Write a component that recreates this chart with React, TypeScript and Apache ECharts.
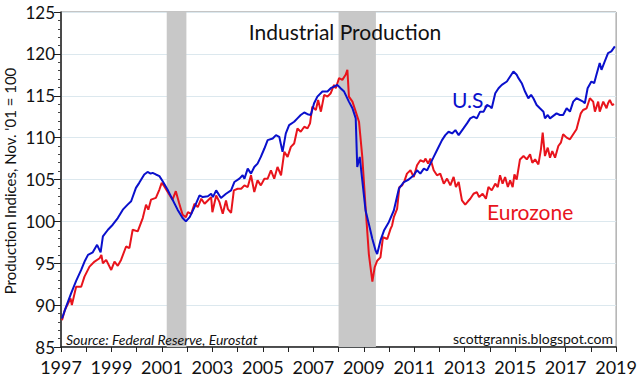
import React, { useEffect, useRef } from "react";
import * as echarts from "echarts";

const usSeries: [number, number][] = [
  [1997.04, 88.4], [1997.2, 89.8], [1997.4, 91.4], [1997.6, 92.9], [1997.8, 94.2], [1997.95, 95.3], [1998.07, 96.0], [1998.26, 96.3], [1998.43, 97.2], [1998.57, 96.3], [1998.66, 98.2], [1998.86, 99.0], [1999.05, 99.6], [1999.25, 100.4], [1999.45, 101.4], [1999.64, 102.0], [1999.78, 102.4], [1999.97, 104.0], [2000.1, 104.6], [2000.3, 105.6], [2000.43, 105.9], [2000.55, 105.7], [2000.63, 105.8], [2000.76, 105.6], [2000.9, 105.4], [2001.03, 104.8], [2001.22, 103.8], [2001.42, 102.6], [2001.62, 101.4], [2001.82, 100.4], [2001.95, 100.0],
  [2002.1, 100.5], [2002.29, 101.7], [2002.49, 103.1], [2002.62, 102.9], [2002.82, 103.0], [2002.95, 103.3], [2003.02, 102.9], [2003.15, 103.7], [2003.34, 102.8], [2003.54, 103.3], [2003.74, 103.7], [2003.87, 104.7], [2004.07, 105.1], [2004.2, 105.5], [2004.27, 105.1], [2004.4, 106.3], [2004.53, 105.7], [2004.66, 106.5], [2004.79, 106.9], [2004.92, 107.7], [2005.06, 108.7], [2005.19, 109.7], [2005.39, 109.9], [2005.52, 110.3], [2005.65, 110.1], [2005.78, 108.3], [2005.91, 110.5], [2006.04, 111.5], [2006.24, 111.9], [2006.37, 112.3], [2006.5, 112.7], [2006.64, 113.0], [2006.77, 112.8], [2006.9, 112.7], [2007.03, 114.1], [2007.16, 114.9], [2007.36, 115.5], [2007.56, 115.5], [2007.69, 115.9], [2007.82, 116.1], [2007.95, 116.3],
  [2008.08, 115.9], [2008.22, 115.5], [2008.41, 114.3], [2008.55, 113.5], [2008.68, 112.3], [2008.74, 106.5], [2008.84, 107.7], [2008.94, 104.9], [2009.07, 101.3], [2009.2, 99.7], [2009.34, 97.9], [2009.47, 96.5], [2009.53, 96.1], [2009.66, 97.7], [2009.8, 98.9], [2009.99, 99.9], [2010.19, 101.3], [2010.39, 103.9], [2010.59, 104.7], [2010.78, 105.0], [2010.98, 105.5],
  [2011.11, 106.1], [2011.24, 105.7], [2011.38, 106.3], [2011.51, 106.1], [2011.64, 106.9], [2011.77, 107.7], [2011.9, 108.5], [2012.1, 109.7], [2012.23, 110.3], [2012.36, 110.7], [2012.5, 110.5], [2012.63, 110.9], [2012.76, 110.3], [2012.95, 111.1], [2013.09, 111.7], [2013.22, 112.3], [2013.35, 112.5], [2013.48, 112.3], [2013.61, 113.1], [2013.75, 113.1], [2013.88, 113.9], [2014.01, 113.7], [2014.07, 113.5], [2014.21, 115.3], [2014.34, 115.9], [2014.47, 116.3], [2014.67, 116.7], [2014.8, 117.3], [2014.93, 117.9],
  [2015.06, 117.5], [2015.13, 117.1], [2015.26, 116.5], [2015.39, 115.5], [2015.52, 114.7], [2015.63, 115.1], [2015.72, 114.7], [2015.85, 113.9], [2015.98, 113.5], [2016.12, 113.1], [2016.18, 112.3], [2016.29, 112.7], [2016.38, 112.3], [2016.51, 112.6], [2016.64, 112.9], [2016.77, 112.7], [2016.9, 112.7], [2017.04, 113.5], [2017.17, 113.1], [2017.3, 114.3], [2017.43, 114.7], [2017.56, 114.5], [2017.69, 114.3], [2017.76, 114.1], [2017.87, 115.9], [2018.02, 116.7], [2018.13, 116.5], [2018.22, 117.5], [2018.35, 118.9], [2018.42, 118.1], [2018.55, 119.1], [2018.68, 120.1], [2018.81, 120.3], [2018.95, 120.9],
];

const euroSeries: [number, number][] = [
  [1997.04, 88.2], [1997.15, 89.4], [1997.28, 90.2], [1997.38, 90.8], [1997.43, 90.0], [1997.6, 92.2], [1997.8, 92.2], [1997.93, 93.4], [1998.13, 94.6], [1998.33, 95.2], [1998.53, 95.6], [1998.6, 96.0], [1998.66, 95.0], [1998.79, 95.4], [1998.99, 94.2], [1999.12, 95.2], [1999.25, 94.7], [1999.38, 95.4], [1999.58, 97.0], [1999.71, 96.8], [1999.84, 99.0], [2000.04, 98.8], [2000.24, 100.4], [2000.37, 102.0], [2000.46, 101.4], [2000.57, 102.6], [2000.76, 102.8], [2000.9, 103.8], [2000.99, 104.6], [2001.09, 104.2], [2001.29, 103.2], [2001.42, 102.6], [2001.55, 103.6], [2001.68, 102.2], [2001.82, 100.8], [2001.95, 100.5],
  [2002.03, 101.1], [2002.16, 100.9], [2002.29, 102.1], [2002.42, 101.7], [2002.56, 102.7], [2002.69, 102.1], [2002.82, 102.5], [2002.95, 102.9], [2003.0, 101.1], [2003.15, 103.1], [2003.28, 102.3], [2003.41, 100.9], [2003.54, 102.5], [2003.61, 101.5], [2003.74, 101.0], [2003.85, 103.7], [2004.0, 103.9], [2004.14, 103.9], [2004.27, 104.3], [2004.4, 104.1], [2004.53, 105.5], [2004.66, 103.5], [2004.79, 104.9], [2004.92, 104.3], [2005.06, 105.1], [2005.19, 105.1], [2005.32, 106.1], [2005.45, 105.1], [2005.58, 106.5], [2005.72, 105.5], [2005.85, 108.3], [2005.98, 107.7], [2006.11, 108.9], [2006.24, 109.3], [2006.37, 111.1], [2006.5, 110.7], [2006.64, 111.3], [2006.77, 111.1], [2006.87, 111.7], [2006.96, 113.7], [2007.1, 113.3], [2007.19, 114.5], [2007.3, 113.1], [2007.43, 115.1], [2007.56, 114.9], [2007.69, 115.3], [2007.82, 116.3], [2007.89, 115.9],
  [2008.02, 117.1], [2008.15, 116.9], [2008.28, 117.5], [2008.35, 118.1], [2008.41, 114.9], [2008.55, 114.3], [2008.68, 113.1], [2008.81, 111.9], [2008.94, 107.7], [2009.07, 101.7], [2009.2, 96.1], [2009.34, 92.8], [2009.43, 94.5], [2009.53, 95.3], [2009.66, 95.7], [2009.76, 98.1], [2009.93, 97.9], [2010.06, 99.1], [2010.12, 99.5], [2010.19, 100.5], [2010.32, 101.5], [2010.41, 104.1], [2010.52, 104.3], [2010.62, 104.9], [2010.71, 105.7], [2010.85, 106.1], [2010.98, 105.3],
  [2011.11, 106.7], [2011.24, 107.3], [2011.38, 107.1], [2011.44, 107.5], [2011.55, 106.9], [2011.64, 107.5], [2011.77, 106.1], [2011.9, 105.5], [2012.03, 105.7], [2012.17, 104.5], [2012.3, 105.1], [2012.43, 104.3], [2012.56, 105.3], [2012.65, 104.1], [2012.76, 104.7], [2012.89, 102.5], [2013.02, 102.0], [2013.13, 102.4], [2013.22, 102.7], [2013.35, 103.3], [2013.48, 103.5], [2013.57, 102.9], [2013.71, 103.3], [2013.84, 102.7], [2013.94, 104.1], [2014.07, 103.7], [2014.21, 104.5], [2014.31, 104.1], [2014.4, 105.5], [2014.5, 104.5], [2014.6, 105.3], [2014.71, 104.1], [2014.8, 104.9], [2014.9, 104.1], [2014.97, 105.6],
  [2015.06, 105.0], [2015.19, 107.4], [2015.33, 107.8], [2015.46, 107.4], [2015.59, 108.0], [2015.68, 107.0], [2015.79, 107.4], [2015.92, 106.8], [2016.02, 108.6], [2016.09, 110.6], [2016.18, 107.8], [2016.29, 108.8], [2016.38, 107.6], [2016.47, 108.4], [2016.58, 107.6], [2016.71, 109.0], [2016.81, 109.4], [2016.9, 110.4], [2017.04, 110.0], [2017.17, 109.8], [2017.3, 110.4], [2017.43, 111.0], [2017.5, 111.8], [2017.6, 112.9], [2017.69, 113.3], [2017.83, 113.5], [2017.96, 114.7], [2018.09, 114.3], [2018.16, 113.1], [2018.29, 114.3], [2018.35, 113.1], [2018.49, 114.3], [2018.62, 113.5], [2018.68, 114.1], [2018.75, 114.5], [2018.84, 113.9], [2018.92, 114.0],
];

const recessions: [number, number][] = [
  [2001.19, 2001.97],
  [2008.0, 2009.48],
];

const xRange = [1997, 2019];
const yRange = [85, 125];

const FONT = "Lato";
const BLUE = "#0a10cc";
const RED = "#e8141c";

export default function App() {
  const ref = useRef<HTMLDivElement>(null);
  useEffect(() => {
    if (!ref.current) return;
    const chart = echarts.init(ref.current, null, { renderer: "svg" });
    chart.setOption({
      animation: false,
      backgroundColor: "#ffffff",
      grid: { left: 61, right: 20, top: 12, bottom: 32, show: true, borderColor: "#8a8a8a", borderWidth: 1, backgroundColor: "transparent" },
      xAxis: {
        type: "value",
        min: xRange[0],
        max: xRange[1],
        interval: 1,
        axisLine: { show: true, onZero: false, lineStyle: { color: "#222", width: 1.5 } },
        axisTick: { show: true, length: 5, lineStyle: { color: "#222" } },
        splitLine: { show: false },
        axisLabel: {
          color: "#111",
          fontFamily: FONT,
          fontSize: 18,
          margin: 11,
          formatter: (v: number) => (Math.round(v) % 2 === 1 ? String(Math.round(v)) : ""),
        },
      },
      yAxis: {
        type: "value",
        min: yRange[0],
        max: yRange[1],
        interval: 5,
        axisLine: { show: true, lineStyle: { color: "#222", width: 1.5 } },
        axisTick: { show: true, length: 7, lineStyle: { color: "#222" } },
        minorTick: { show: true, splitNumber: 5, length: 3, lineStyle: { color: "#444" } },
        splitLine: { show: true, lineStyle: { color: "#dce8ee", width: 1.2 } },
        axisLabel: { color: "#111", fontFamily: FONT, fontSize: 17, margin: 6 },
      },
      series: [
        {
          type: "line",
          data: [],
          z: 1,
          silent: true,
          markArea: {
            silent: true,
            itemStyle: { color: "#c8c8c8", opacity: 1 },
            data: recessions.map(([a, b]) => [{ xAxis: a }, { xAxis: b }]),
          },
        },
        {
          name: "Eurozone",
          type: "line",
          data: euroSeries,
          showSymbol: false,
          z: 3,
          lineStyle: { color: RED, width: 2 },
        },
        {
          name: "U.S.",
          type: "line",
          data: usSeries,
          showSymbol: false,
          z: 4,
          lineStyle: { color: BLUE, width: 2 },
        },
      ],
      graphic: [
        { type: "text", z: 20, x: 345, y: 31, style: { text: "Industrial Production", fontFamily: FONT, fontSize: 21, fill: "#111", textAlign: "center", textVerticalAlign: "middle" } },
        { type: "text", z: 20, x: 452, y: 99, style: { text: "U.S.", fontFamily: FONT, fontSize: 21, fill: BLUE, textAlign: "left", textVerticalAlign: "middle" } },
        { type: "text", z: 20, x: 487, y: 211, style: { text: "Eurozone", fontFamily: FONT, fontSize: 21, fill: RED, textAlign: "left", textVerticalAlign: "middle" } },
        { type: "text", z: 20, x: 66, y: 339, style: { text: "Source: Federal Reserve, Eurostat", fontFamily: FONT, fontStyle: "italic", fontSize: 14, fill: "#111", textAlign: "left", textVerticalAlign: "middle" } },
        { type: "text", z: 20, x: 613, y: 338, style: { text: "scottgrannis.blogspot.com", fontFamily: FONT, fontSize: 14, fill: "#111", textAlign: "right", textVerticalAlign: "middle" } },
        { type: "text", z: 20, x: 10, y: 181, rotation: Math.PI / 2, style: { text: "Production Indices, Nov. '01 = 100", fontFamily: FONT, fontSize: 15, fill: "#111", textAlign: "center", textVerticalAlign: "middle" } },
      ],
    });
    return () => chart.dispose();
  }, []);
  return <div ref={ref} style={{ position: "absolute", left: 0, top: 0, width: 640, height: 379 }} />;
}
